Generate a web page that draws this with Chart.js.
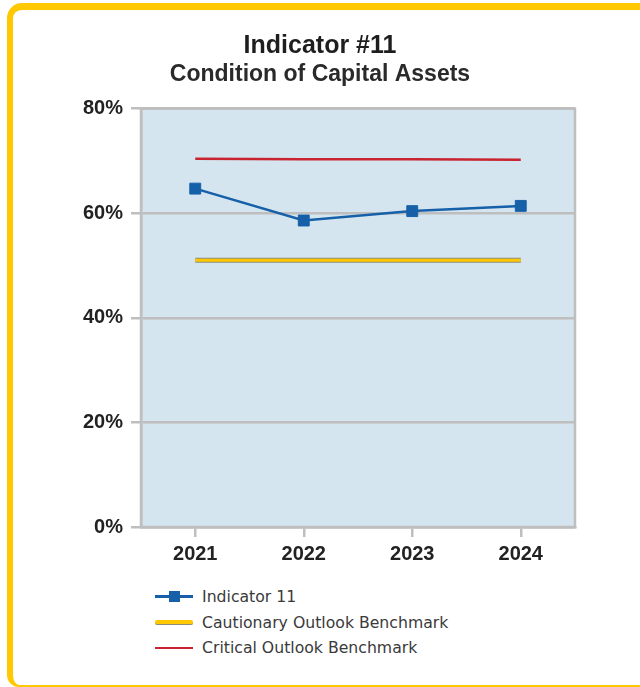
<!DOCTYPE html>
<html>
<head>
<meta charset="utf-8">
<script src="https://cdn.jsdelivr.net/npm/chart.js@4.4.0/dist/chart.umd.min.js"></script>
<style>
  html, body { margin: 0; padding: 0; background: #fff; overflow: hidden; }
  body { width: 640px; height: 687px; position: relative; }
  #frame {
    position: absolute; left: 7px; top: 3px; width: 700px; height: 684px;
    box-sizing: border-box; border: solid #FFC800; border-width: 7px 0 2px 6px;
    border-radius: 15px 0 0 12px;
  }
  #graph { position: absolute; left: 0; top: 0; }
  #legend {
    position: absolute; left: 155px; top: 584px;
    font-family: "DejaVu Sans", sans-serif; font-size: 15.7px; color: #3a3a3a;
  }
  .row { height: 25.5px; line-height: 25.5px; white-space: nowrap; }
  .key { display: inline-block; position: relative; width: 38px; height: 25px; vertical-align: top; margin-right: 9px; }
  .ln { position: absolute; left: 0; right: 0; }
  .mk { position: absolute; left: 14px; top: 7px; width: 11px; height: 11px; }
</style>
</head>
<body>
<div id="frame"></div>
<canvas id="graph" width="640" height="578"></canvas>
<div id="legend"></div>
<script>
// values
var years = ['2021', '2022', '2023', '2024'];
var indicator11 = [64.7, 58.6, 60.4, 61.4];
var cautionary = [51.0, 51.0, 51.0, 51.0];
var critical = [70.4, 70.3, 70.3, 70.2];
var yTicks = [0, 20, 40, 60, 80];

var gray = '#BEBEBE';
var tickFont = { family: 'Liberation Sans', size: 20, weight: 'bold' };

// plot background + frame round the chart area
var plotBox = {
    id: 'plotBox',
    beforeDraw: function(chart) {
        var a = chart.chartArea, ctx = chart.ctx;
        ctx.save();
        ctx.fillStyle = '#D4E5F0';
        ctx.fillRect(a.left, a.top, a.right - a.left, a.bottom - a.top);
        ctx.restore();
    },
    beforeDatasetsDraw: function(chart) {
        var a = chart.chartArea, ctx = chart.ctx;
        ctx.save();
        ctx.strokeStyle = gray;
        ctx.lineWidth = 2.5;
        ctx.strokeRect(a.left, a.top, a.right - a.left, a.bottom - a.top);
        ctx.restore();
    }
};

// legend as one item per row, built from the chart's own legend items
var htmlLegend = {
    id: 'htmlLegend',
    afterUpdate: function(chart) {
        var box = document.getElementById('legend');
        box.innerHTML = '';
        var items = chart.options.plugins.legend.labels.generateLabels(chart);
        items.forEach(function(it) {
            var ds = chart.data.datasets[it.datasetIndex];
            if (!ds.label) return;
            var row = document.createElement('div');
            row.className = 'row';
            var key = document.createElement('span');
            key.className = 'key';
            var ln = document.createElement('span');
            ln.className = 'ln';
            var lw = ds.keyWidth || it.lineWidth;
            ln.style.height = lw + 'px';
            ln.style.top = (12.5 - lw / 2) + 'px';
            ln.style.background = it.strokeStyle;
            if (ds.keyOutline) {
                ln.style.borderBottom = '1px solid ' + ds.keyOutline;
                ln.style.borderRadius = '2px';
            }
            key.appendChild(ln);
            if (ds.pointRadius > 0) {
                var mk = document.createElement('span');
                mk.className = 'mk';
                mk.style.background = ds.pointBackgroundColor;
                key.appendChild(mk);
            }
            row.appendChild(key);
            row.appendChild(document.createTextNode(it.text));
            box.appendChild(row);
        });
    }
};

var ctx = document.getElementById('graph');

new Chart(ctx, {
    type: 'line',
    data: {
        labels: years,
        datasets: [
            {
                label: 'Indicator 11',
                data: indicator11,
                borderColor: '#1560A8',
                borderWidth: 2.5,
                pointStyle: 'rect',
                pointRadius: 7.7,
                pointBorderWidth: 1,
                pointBackgroundColor: '#1560A8',
                pointBorderColor: '#1560A8',
                order: 1
            },
            {
                label: 'Cautionary Outlook Benchmark',
                data: cautionary,
                borderColor: '#FFC800',
                borderWidth: 3,
                pointRadius: 0,
                keyWidth: 4,
                keyOutline: '#8E8C78',
                order: 2
            },
            {
                label: 'Critical Outlook Benchmark',
                data: critical,
                borderColor: '#C8232E',
                borderWidth: 2.5,
                pointRadius: 0,
                keyWidth: 2,
                order: 3
            },
            {
                // grey edge under the cautionary line
                label: '',
                data: cautionary,
                borderColor: '#8E8C78',
                borderWidth: 5,
                pointRadius: 0,
                order: 5
            }
        ]
    },
    options: {
        responsive: false,
        animation: false,
        layout: {
            padding: { left: 0, right: 0, top: 0, bottom: 7 }
        },
        elements: { line: { tension: 0 } },
        plugins: {
            legend: { display: false },
            tooltip: { enabled: false },
            title: {
                display: true,
                text: 'Indicator #11',
                color: '#1e1e1e',
                font: { family: 'Liberation Sans', size: 25, weight: 'bold' },
                padding: { top: 31, bottom: 0 }
            },
            subtitle: {
                display: true,
                text: 'Condition of Capital Assets',
                color: '#2a2a2a',
                font: { family: 'Liberation Sans', size: 23, weight: 'bold' },
                padding: { top: 0, bottom: 20 }
            }
        },
        scales: {
            x: {
                offset: true,
                border: { color: gray, width: 2.5 },
                grid: {
                    drawOnChartArea: false,
                    drawTicks: true,
                    tickLength: 10,
                    color: gray,
                    lineWidth: 2.5
                },
                ticks: {
                    color: '#222',
                    padding: 5,
                    font: tickFont
                }
            },
            y: {
                min: 0,
                max: 80,
                afterBuildTicks: function(scale) {
                    scale.ticks = yTicks.map(function(v) { return { value: v }; });
                },
                afterFit: function(scale) {
                    scale.width = 141;
                },
                border: { color: gray, width: 2.5 },
                grid: {
                    color: gray,
                    lineWidth: 2.5,
                    drawTicks: true,
                    tickLength: 10
                },
                ticks: {
                    color: '#222',
                    padding: 8,
                    font: tickFont,
                    callback: function(v) { return v + '%'; }
                }
            },
            // empty right-hand scale: keeps the white margin right of the plot
            // while the titles stay centred on the whole canvas
            yRight: {
                position: 'right',
                min: 0,
                max: 80,
                afterFit: function(scale) {
                    scale.width = 65;
                },
                border: { display: false },
                grid: { display: false },
                ticks: { display: false }
            }
        }
    },
    plugins: [plotBox, htmlLegend]
});
</script>
</body>
</html>
